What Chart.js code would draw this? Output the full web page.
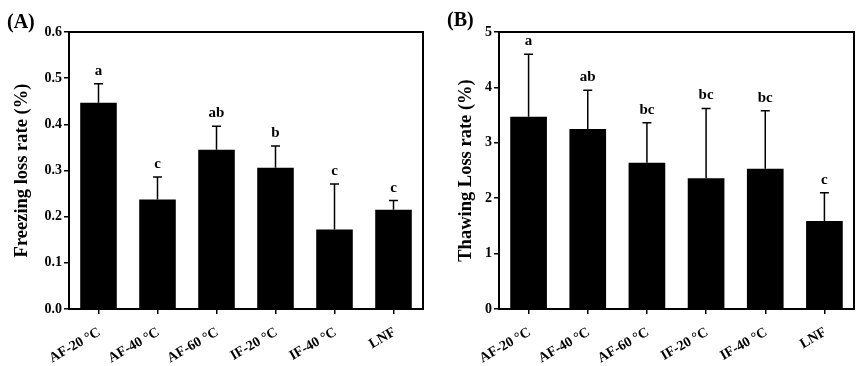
<!DOCTYPE html>
<html><head><meta charset="utf-8">
<script src="https://cdn.jsdelivr.net/npm/chart.js@4.4.1/dist/chart.umd.min.js"></script>
<style>
html,body{margin:0;padding:0;background:#fff;}
#wrap{position:relative;width:862px;height:366px;}
.c{position:absolute;top:0;width:431px;height:366px;}
</style></head>
<body><div id="wrap">
<div class="c" style="left:0"><canvas id="ca"></canvas></div>
<div class="c" style="left:431px"><canvas id="cb"></canvas></div>
</div>
<script>
const categories = ['AF-20 °C','AF-40 °C','AF-60 °C','IF-20 °C','IF-40 °C','LNF'];
const freezingLoss = [0.447, 0.237, 0.345, 0.306, 0.172, 0.215];
const freezingErr  = [0.041, 0.049, 0.051, 0.047, 0.099, 0.020];
const freezingLetters = ['a','c','ab','b','c','c'];
const thawingLoss = [3.47, 3.25, 2.64, 2.36, 2.53, 1.59];
const thawingErr  = [1.13, 0.70, 0.72, 1.26, 1.05, 0.51];
const thawingLetters = ['a','ab','bc','bc','bc','c'];
const panelA = '(A)', panelB = '(B)';
const titleA = 'Freezing loss rate (%)', titleB = 'Thawing Loss rate (%)';

const FONT = "'Liberation Serif','Times New Roman',serif";

function makeChart(id, values, errs, letters, yMax, step, decimals, yTitle, panel, yWidth, titlePad) {
  const extras = {
    id: 'extras',
    afterDatasetsDraw(chart) {
      const ctx = chart.ctx, x = chart.scales.x, y = chart.scales.y, a = chart.chartArea;
      ctx.save();
      ctx.strokeStyle = '#000';
      ctx.fillStyle = '#000';
      ctx.lineWidth = 1.5;
      values.forEach((v, i) => {
        const px = x.getPixelForValue(i);
        const top = y.getPixelForValue(v + errs[i]);
        const base = y.getPixelForValue(v);
        ctx.beginPath();
        ctx.moveTo(px, base); ctx.lineTo(px, top);
        ctx.moveTo(px - 4.5, top); ctx.lineTo(px + 4.5, top);
        ctx.stroke();
        ctx.font = 'bold 15px ' + FONT;
        ctx.textAlign = 'center';
        ctx.textBaseline = 'alphabetic';
        ctx.fillText(letters[i], px, top - 9);
      });
      ctx.lineWidth = 2;
      ctx.strokeRect(a.left, a.top, a.right - a.left, a.bottom - a.top);
      ctx.font = 'bold 20px ' + FONT;
      ctx.textAlign = 'left';
      ctx.fillText(panel, 7 + (id === 'cb' ? 9 : 0), 28 - (id === 'cb' ? 2 : 0));
      ctx.restore();
    }
  };
  return new Chart(document.getElementById(id), {
    type: 'bar',
    data: { labels: categories, datasets: [{ data: values, backgroundColor: '#000', borderWidth: 0, barPercentage: 0.62, categoryPercentage: 1 }] },
    options: {
      responsive: true, maintainAspectRatio: false, animation: false,
      layout: { padding: { left: 0, right: 8, top: 32, bottom: 0 } },
      plugins: { legend: { display: false }, tooltip: { enabled: false } },
      scales: {
        x: {
          offset: true,
          grid: { offset: false, drawOnChartArea: false, drawTicks: true, tickLength: 5, color: '#000', lineWidth: 1.5 },
          border: { display: true, color: '#000', width: 2 },
          ticks: { color: '#000', font: { family: FONT, size: 14, weight: 'bold' }, minRotation: 30, maxRotation: 30, labelOffset: 1, padding: 10, autoSkip: false },
          afterFit(s) { s.height = 57; }
        },
        y: {
          min: 0, max: yMax,
          grid: { drawOnChartArea: false, drawTicks: true, tickLength: 5, color: '#000', lineWidth: 1.5 },
          border: { display: true, color: '#000', width: 2 },
          ticks: { stepSize: step, color: '#000', padding: 2, font: { family: FONT, size: 14, weight: 'bold' }, callback: v => Number(v).toFixed(decimals) },
          title: { display: true, text: yTitle, color: '#000', font: { family: FONT, size: 18.5, weight: 'bold' }, padding: { top: titlePad, bottom: 0 } },
          afterFit(s) { s.width = yWidth; }
        }
      }
    },
    plugins: [extras]
  });
}

makeChart('ca', freezingLoss, freezingErr, freezingLetters, 0.6, 0.1, 1, titleA, panelA, 69, 11);
makeChart('cb', thawingLoss, thawingErr, thawingLetters, 5, 1, 0, titleB, panelB, 68, 24);
</script>
</body></html>
